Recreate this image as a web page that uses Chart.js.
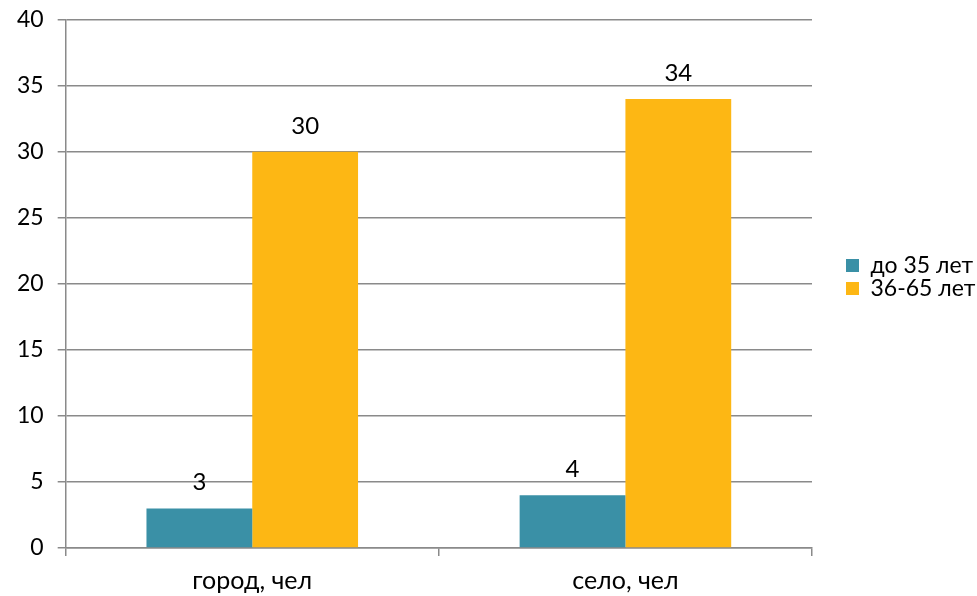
<!DOCTYPE html>
<html lang="ru">
<head>
<meta charset="utf-8">
<title>Возраст: город и село</title>
<script src="https://cdn.jsdelivr.net/npm/chart.js@4/dist/chart.umd.min.js"></script>
<style>
  html, body { margin: 0; padding: 0; background: #fff; }
  #wrap { width: 977px; height: 596px; position: relative; }
</style>
</head>
<body>
<div id="wrap"><canvas id="ageChart"></canvas></div>
<script>
// data
const categories = ['город, чел', 'село, чел'];
const seriesNames = ['до 35 лет', '36-65 лет'];
const young = [3, 4];
const middle = [30, 34];
const yTicks = { min: 0, max: 40, step: 5 };

const teal = '#3A90A6';
const orange = '#FDB714';
const gridGray = '#8A8A8A';
const fontFamily = 'Lato, "Open Sans", sans-serif';

// value labels drawn above every bar
const barValues = {
  id: 'barValues',
  afterDatasetsDraw(chart) {
    const ctx = chart.ctx;
    ctx.save();
    ctx.font = '24px ' + fontFamily;
    ctx.fillStyle = '#000';
    ctx.textAlign = 'center';
    ctx.textBaseline = 'bottom';
    chart.data.datasets.forEach((ds, i) => {
      chart.getDatasetMeta(i).data.forEach((bar, j) => {
        ctx.fillText(String(ds.data[j]), bar.x, bar.y - 14);
      });
    });
    ctx.restore();
  }
};

// keep the legend column wide and move its items off the plot edge
const legendSlot = {
  id: 'legendSlot',
  beforeLayout(chart) {
    const legend = chart.legend;
    if (legend && !legend._slotPatched) {
      const fit = legend.fit;
      legend.fit = function () {
        fit.call(this);
        this.width = 165;
      };
      legend._slotPatched = true;
    }
  },
  afterLayout(chart) {
    const legend = chart.legend;
    legend.left += 34;
    legend.top -= 7;
    legend.bottom -= 7;
  }
};

const ctx = document.getElementById('ageChart').getContext('2d');

new Chart(ctx, {
  type: 'bar',
  data: {
    labels: categories,
    datasets: [
      { label: seriesNames[0], data: young, backgroundColor: teal },
      { label: seriesNames[1], data: middle, backgroundColor: orange }
    ]
  },
  options: {
    responsive: true,
    maintainAspectRatio: false,
    animation: false,
    datasets: {
      bar: { categoryPercentage: 0.567, barPercentage: 1 }
    },
    // x tick padding is counted twice by the scale, trim it back here
    layout: { padding: { top: 0, left: 3, right: 0, bottom: -10 } },
    scales: {
      x: {
        grid: { offset: true, drawOnChartArea: false, color: gridGray, lineWidth: 1.5, tickLength: 8 },
        border: { color: gridGray, width: 1.5 },
        ticks: { color: '#000', font: { family: fontFamily, size: 25 }, padding: 10 }
      },
      y: {
        min: yTicks.min,
        max: yTicks.max,
        // small lineHeight keeps the top label from pushing the plot down
        ticks: { stepSize: yTicks.step, color: '#000', font: { family: fontFamily, size: 23, lineHeight: 0.5 }, padding: 14 },
        grid: { color: gridGray, lineWidth: 1.5, tickLength: 8 },
        border: { color: gridGray, width: 1.5 }
      }
    },
    plugins: {
      legend: {
        position: 'right',
        align: 'center',
        fullSize: false,
        labels: {
          boxWidth: 13,
          boxHeight: 13,
          padding: 0,
          color: '#000',
          font: { family: fontFamily, size: 23 }
        }
      },
      tooltip: { enabled: false }
    }
  },
  plugins: [barValues, legendSlot]
});
</script>
</body>
</html>
